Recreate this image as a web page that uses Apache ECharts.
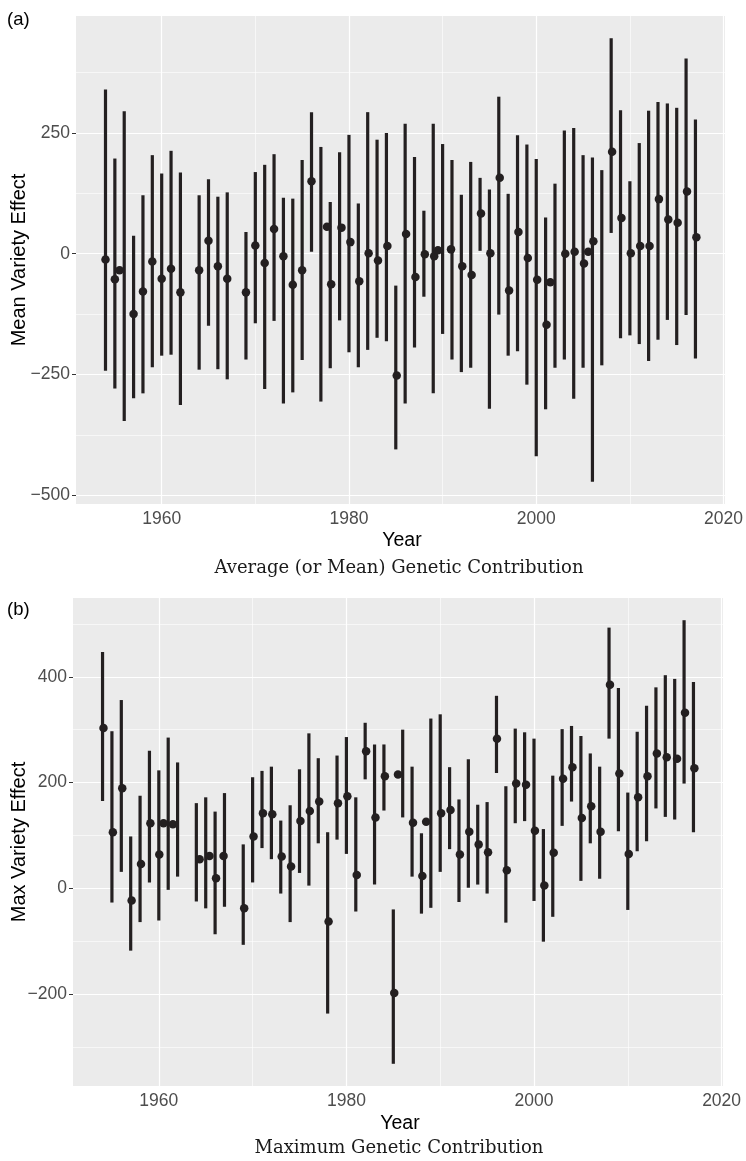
<!DOCTYPE html>
<html>
<head>
<meta charset="utf-8">
<script src="https://cdn.jsdelivr.net/npm/echarts@6/dist/echarts.min.js"></script>
<style>
  html, body { margin: 0; padding: 0; background: #ffffff; }
  #chart { width: 746px; height: 1161px; }
</style>
</head>
<body>
<div id="chart"></div>
<script>
// ---------- Panel (a): Mean variety effect ----------
const aBarYears = [1954,1955,1956,1957,1958,1959,1960,1961,1962,1964,1965,1966,1967,1969,1970,1971,1972,1973,1974,1975,1976,1977,1978,1979,1980,1981,1982,1983,1984,1985,1986,1987,1988,1989,1990,1991,1992,1993,1994,1995,1996,1997,1998,1999,2000,2001,2002,2003,2004,2005,2006,2007,2008,2009,2010,2011,2012,2013,2014,2015,2016,2017];
const aBarLow  = [-242,-279,-346,-299,-289,-235,-211,-209,-313,-240,-149,-239,-260,-219,-144,-280,-139,-310,-287,-220,4,-306,-237,-138,-204,-235,-199,-174,-181,-405,-310,-194,-89,-289,-166,-219,-245,-236,6,-321,-126,-211,-202,-271,-419,-322,-236,-219,-300,-236,-472,-231,43,-175,-169,-187,-222,-178,-137,-189,-127,-217];
const aBarHigh = [340,197,295,37,121,204,166,213,168,121,154,118,127,45,169,184,206,116,114,194,293,221,107,210,246,104,293,236,250,-66,269,200,89,269,227,194,122,190,157,133,325,124,245,226,196,75,145,255,260,204,199,173,446,297,150,229,296,314,311,302,404,278];
const aPointX = [1954,1955,1955.5,1957,1958,1959,1960,1961,1962,1964,1965,1966,1967,1969,1970,1971,1972,1973,1974,1975,1976,1977.65,1978.1,1979.2,1980.15,1981.1,1982.1,1983.1,1984.1,1985.1,1986.1,1987.1,1988.1,1989.1,1989.5,1990.9,1992.1,1993.1,1994.1,1995.1,1996.1,1997.1,1998.1,1999.1,2000.1,2001.1,2001.5,2003.1,2004.1,2005.1,2005.55,2006.1,2008.1,2009.1,2010.1,2011.1,2012.1,2013.1,2014.1,2015.1,2016.1,2017.1];
const aPointY = [-12,-53,-34,-125,-78,-16,-52,-31,-80,-34,27,-26,-52,-80,17,-19,51,-5,-64,-34,150,56,-63,54,24,-57,1,-14,16,-252,41,-48,-1,-5,7,9,-26,-44,83,1,157,-76,45,-9,-54,-147,-59,0,4,-20,4,26,211,74,1,16,16,113,71,64,129,34];

// ---------- Panel (b): Max variety effect ----------
const bBarYears = [1954,1955,1956,1957,1958,1959,1960,1961,1962,1964,1965,1966,1967,1969,1970,1971,1972,1973,1974,1975,1976,1977,1978,1979,1980,1981,1982,1983,1984,1985,1986,1987,1988,1989,1990,1991,1992,1993,1994,1995,1996,1997,1998,1999,2000,2001,2002,2003,2004,2005,2006,2007,2008,2009,2010,2011,2012,2013,2014,2015,2016,2017];
const bBarLow  = [165,-27,31,-118,-64,11,-61,-3,22,-25,-38,-87,-35,-107,11,76,55,-10,-64,29,5,85,-237,92,65,-44,206,7,147,-332,134,22,-48,-37,31,74,-26,1,7,-10,218,-65,123,127,-24,-101,-54,118,164,14,85,18,283,108,-41,70,89,151,135,130,198,106];
const bBarHigh = [447,297,356,98,175,260,223,285,238,161,172,145,180,83,210,222,230,128,157,225,293,246,106,251,286,172,313,272,272,-40,300,230,104,321,329,229,168,244,158,163,364,193,302,295,283,112,213,301,307,288,255,230,493,379,181,296,345,380,403,396,507,390];
const bPointX = [1954.1,1955.1,1956.1,1957.1,1958.1,1959.1,1960.05,1960.5,1961.5,1964.35,1965.4,1966.1,1966.9,1969.1,1970.1,1971.1,1972.1,1973.1,1974.1,1975.1,1976.1,1977.1,1978.1,1979.1,1980.1,1981.1,1982.1,1983.1,1984.1,1985.1,1985.5,1987.1,1988.1,1988.5,1990.1,1991.1,1992.1,1993.1,1994.1,1995.1,1996.05,1997.1,1998.1,1999.15,2000.1,2001.1,2002.1,2003.1,2004.1,2005.1,2006.1,2007.1,2008.1,2009.1,2010.1,2011.1,2012.1,2013.1,2014.15,2015.25,2016.1,2017.1];
const bPointY = [303,106,189,-23,46,123,64,123,121,55,61,19,61,-38,98,142,140,60,41,127,146,164,-63,161,174,25,259,134,212,-198,215,124,23,126,142,148,64,107,83,68,283,34,198,196,109,5,67,207,229,133,155,107,385,217,65,172,212,255,248,245,332,227];

// ---------- Axis ticks ----------
const xTicks = [1960, 1980, 2000, 2020];
const xMinor = [1970, 1990, 2010];
const aYTicks = [-500, -250, 0, 250];
const aYMinor = [-375, -125, 125, 375];
const bYTicks = [-200, 0, 200, 400];
const bYMinor = [-300, -100, 100, 300, 500];

const xRange = [1950.85, 2020.15];
const aYRange = [-518, 492];
const bYRange = [-374, 549];

const INK = '#231f20';
const PANEL = '#ebebeb';
const TICKCOL = '#4d4d4d';
const SANS = '"Liberation Sans", Arial, sans-serif';
const SERIF = '"DejaVu Serif", serif';

function fmt(v) { return v < 0 ? '\u2212' + Math.abs(v) : String(v); }

function gridLines(majX, minX, majY, minY) {
  const d = [];
  minX.forEach(v => d.push({ xAxis: v, lineStyle: { color: '#ffffff', width: 0.6, type: 'solid' } }));
  minY.forEach(v => d.push({ yAxis: v, lineStyle: { color: '#ffffff', width: 0.6, type: 'solid' } }));
  majX.forEach(v => d.push({ xAxis: v, lineStyle: { color: '#ffffff', width: 1.2, type: 'solid' } }));
  majY.forEach(v => d.push({ yAxis: v, lineStyle: { color: '#ffffff', width: 1.2, type: 'solid' } }));
  return { silent: true, z: 1, symbol: 'none', label: { show: false }, emphasis: { disabled: true }, animation: false, data: d };
}

function renderBar(params, api) {
  const x = api.value(0);
  const p1 = api.coord([x, api.value(1)]);
  const p2 = api.coord([x, api.value(2)]);
  return { type: 'line', shape: { x1: p1[0], y1: p1[1], x2: p2[0], y2: p2[1] },
           style: { stroke: INK, lineWidth: 3.2, lineCap: 'butt' } };
}

function xAxisCfg(gi) {
  return {
    type: 'value', gridIndex: gi, min: xRange[0], max: xRange[1],
    axisLine: { show: false },
    splitLine: { show: false },
    axisTick: { show: true, customValues: xTicks, length: 4, lineStyle: { color: '#333333', width: 1 } },
    axisLabel: { customValues: xTicks, color: TICKCOL, fontFamily: SANS, fontSize: 17.5, margin: 6, formatter: v => String(v) }
  };
}
function yAxisCfg(gi, range, ticks) {
  return {
    type: 'value', gridIndex: gi, min: range[0], max: range[1],
    axisLine: { show: false },
    splitLine: { show: false },
    axisTick: { show: true, customValues: ticks, length: 4, lineStyle: { color: '#333333', width: 1 } },
    axisLabel: { customValues: ticks, color: TICKCOL, fontFamily: SANS, fontSize: 17.5, margin: 6, formatter: v => fmt(v) }
  };
}

const chart = echarts.init(document.getElementById('chart'), null, { renderer: 'canvas' });
chart.setOption({
  animation: false,
  backgroundColor: '#ffffff',
  grid: [
    { left: 76, top: 16, width: 651, height: 488, show: true, backgroundColor: PANEL, borderWidth: 0 },
    { left: 73, top: 598, width: 650, height: 488, show: true, backgroundColor: PANEL, borderWidth: 0 }
  ],
  xAxis: [xAxisCfg(0), xAxisCfg(1)],
  yAxis: [yAxisCfg(0, aYRange, aYTicks), yAxisCfg(1, bYRange, bYTicks)],
  series: [
    { type: 'custom', xAxisIndex: 0, yAxisIndex: 0, z: 2, renderItem: renderBar,
      encode: { x: 0, y: [1, 2] },
      data: aBarYears.map((y, i) => [y, aBarLow[i], aBarHigh[i]]),
      markLine: gridLines(xTicks, xMinor, aYTicks, aYMinor) },
    { type: 'scatter', xAxisIndex: 0, yAxisIndex: 0, z: 3, symbol: 'circle', symbolSize: 8.5,
      itemStyle: { color: INK, opacity: 1 },
      data: aPointX.map((x, i) => [x, aPointY[i]]) },
    { type: 'custom', xAxisIndex: 1, yAxisIndex: 1, z: 2, renderItem: renderBar,
      encode: { x: 0, y: [1, 2] },
      data: bBarYears.map((y, i) => [y, bBarLow[i], bBarHigh[i]]),
      markLine: gridLines(xTicks, xMinor, bYTicks, bYMinor) },
    { type: 'scatter', xAxisIndex: 1, yAxisIndex: 1, z: 3, symbol: 'circle', symbolSize: 8.5,
      itemStyle: { color: INK, opacity: 1 },
      data: bPointX.map((x, i) => [x, bPointY[i]]) }
  ],
  graphic: [
    { type: 'text', x: 7, y: 20, style: { text: '(a)', font: '18.5px ' + SANS, fill: '#000', textVerticalAlign: 'middle' } },
    { type: 'text', x: 19, y: 260, rotation: Math.PI / 2, style: { text: 'Mean Variety Effect', font: '20px ' + SANS, fill: '#000', textAlign: 'center', textVerticalAlign: 'middle' } },
    { type: 'text', x: 402, y: 541, style: { text: 'Year', font: '19.5px ' + SANS, fill: '#000', textAlign: 'center', textVerticalAlign: 'middle' } },
    { type: 'text', x: 399, y: 568, style: { text: 'Average (or Mean) Genetic Contribution', font: '18px ' + SERIF, fill: '#1a1a1a', textAlign: 'center', textVerticalAlign: 'middle' } },
    { type: 'text', x: 7, y: 610, style: { text: '(b)', font: '18.5px ' + SANS, fill: '#000', textVerticalAlign: 'middle' } },
    { type: 'text', x: 19, y: 842, rotation: Math.PI / 2, style: { text: 'Max Variety Effect', font: '20px ' + SANS, fill: '#000', textAlign: 'center', textVerticalAlign: 'middle' } },
    { type: 'text', x: 400, y: 1124, style: { text: 'Year', font: '19.5px ' + SANS, fill: '#000', textAlign: 'center', textVerticalAlign: 'middle' } },
    { type: 'text', x: 399, y: 1148, style: { text: 'Maximum Genetic Contribution', font: '18px ' + SERIF, fill: '#1a1a1a', textAlign: 'center', textVerticalAlign: 'middle' } }
  ]
});
</script>
</body>
</html>
